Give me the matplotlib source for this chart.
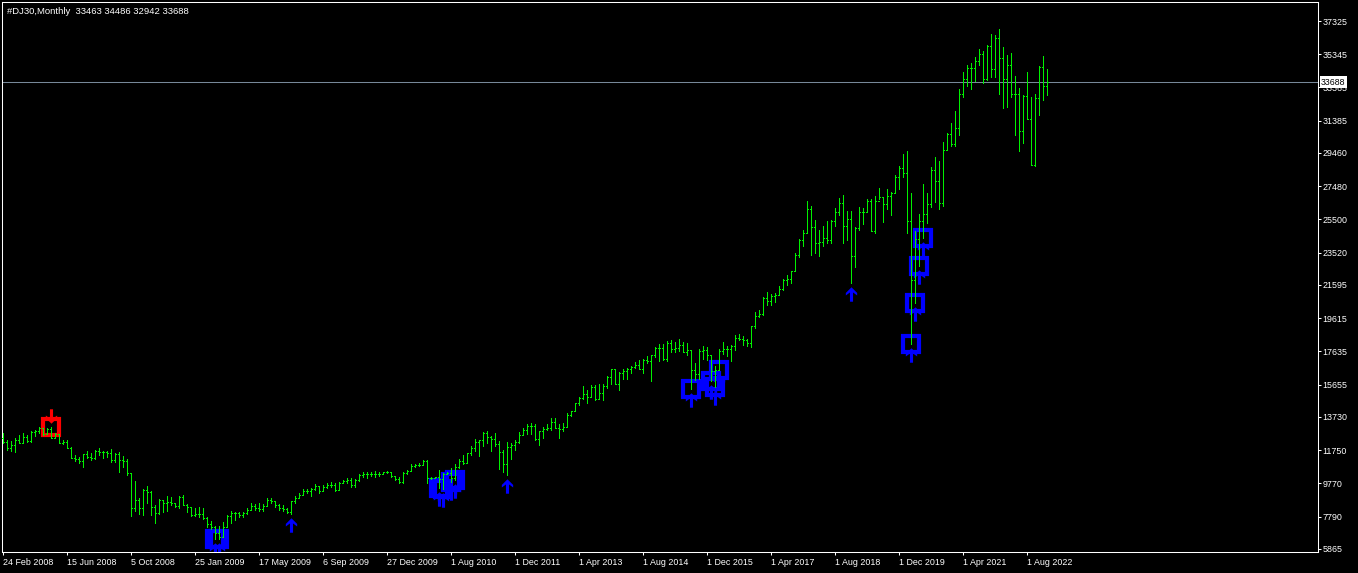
import numpy as np
import matplotlib.pyplot as plt
from matplotlib.collections import LineCollection
from matplotlib.path import Path

plt.rcParams['font.family'] = ['Liberation Sans', 'DejaVu Sans']

# #DJ30 bars (weekly part first, then monthly)
first_open = 12450
highs = [
    12750, 12350, 12310, 12450, 12650, 12750, 12650, 12890, 12950, 13110,
    13050, 13050, 13110, 12750, 12700, 12350, 12350, 11920, 11460, 11360,
    11520, 11700, 11560, 11760, 11860, 11700, 11700, 11800, 11560, 11640,
    11400, 11200, 10380, 9930, 8880, 9430, 9610, 9300, 8480, 8820,
    8780, 9010, 8930, 8580, 9010, 9070, 8540, 8380, 8280, 8340,
    8280, 7780, 7520, 7200, 7230, 7480, 7880, 8120, 8080, 8080,
    8080, 8280, 8580, 8520, 8580, 8520, 8880, 8880, 8700, 8520,
    8480, 8320, 8720, 9010, 9170, 9410, 9410, 9510, 9710, 9610,
    9670, 9810, 9870, 9770, 9870, 9970, 10070, 10070, 10010, 10310,
    10470, 10470, 10470, 10510, 10470, 10470, 10510, 10450, 10210, 10170,
    10470, 10560, 10920, 10920, 10960, 11160, 11160, 10170, 10170, 10565,
    10410, 10470, 10710, 10900, 11200, 11460, 11600, 12000, 12390, 12350,
    12850, 12890, 12600, 12750, 12280, 11760, 12220, 12190, 12330, 12841,
    13056, 13290, 13339, 13280, 12900, 13140, 13330, 13653, 13662, 13290,
    13362, 13969, 14054, 14585, 14888, 15542, 15340, 15658, 15618, 15710,
    15680, 16174, 16588, 16588, 16398, 16588, 16631, 16735, 16978, 17151,
    17153, 17350, 17395, 17895, 18103, 18053, 18244, 18289, 18175, 18351,
    18190, 18137, 17710, 16933, 17800, 17977, 17924, 17422, 16752, 17790,
    18168, 17935, 18016, 18622, 18668, 18534, 18399, 19152, 19987, 20125,
    20851, 21169, 21071, 21112, 21535, 21929, 22179, 22420, 23485, 24328,
    24876, 26617, 26307, 25449, 24858, 25086, 25403, 25473, 26168, 26770,
    26952, 25980, 25980, 25056, 26242, 26156, 26696, 26695, 26907, 27399,
    26864, 27306, 27122, 28175, 28701, 29374, 29576, 27100, 24830, 25820,
    27610, 27070, 28630, 29199, 28958, 30116, 30637, 31272, 31961, 33259,
    34257, 34712, 34849, 35171, 35631, 35510, 35892, 36566, 36513, 36830,
    35795, 35300, 35400, 34050, 33310, 32914, 34305, 32775, 32974, 34643,
    35240, 34486,
]
lows = [
    12190, 11760, 11700, 11660, 12150, 12150, 12250, 12250, 12610, 12750,
    12650, 12690, 12450, 12450, 12150, 12110, 11860, 11260, 11120, 10960,
    10760, 11300, 11160, 11220, 11460, 11260, 11360, 11060, 11060, 10470,
    10760, 10270, 7820, 8140, 7940, 7880, 8580, 7880, 7430, 7940,
    8080, 8140, 8480, 8340, 8280, 8480, 8080, 7840, 7820, 7780,
    7620, 7190, 7030, 6430, 6430, 6590, 7190, 7390, 7580, 7780,
    7750, 7940, 8180, 8180, 8140, 8140, 8400, 8580, 8380, 8180,
    8140, 7980, 7960, 8620, 8900, 9070, 9170, 9010, 9370, 9210,
    9300, 9470, 9530, 9330, 9370, 9770, 9770, 9570, 9570, 9910,
    10170, 10110, 10230, 10170, 10210, 10350, 10370, 10130, 9970, 9770,
    9770, 10310, 10500, 10760, 10800, 10870, 9810, 10050, 10070, 9470,
    9410, 10300, 9870, 9970, 10660, 10900, 10960, 11460, 11720, 11420,
    12020, 12150, 11720, 12020, 10600, 10470, 10270, 11230, 11735, 12150,
    12623, 12710, 12710, 12377, 12035, 12492, 12976, 12977, 13049, 12471,
    12883, 13104, 13784, 14054, 14434, 14769, 14551, 14910, 14760, 14777,
    14719, 15454, 15703, 15699, 15340, 16015, 16015, 16334, 16654, 16563,
    16333, 16945, 15855, 17278, 17068, 17136, 17037, 17585, 17576, 17685,
    17596, 17399, 15370, 15942, 16013, 17210, 17139, 15842, 15503, 16511,
    17484, 17331, 17063, 17713, 18289, 17992, 17959, 17888, 19007, 19677,
    19831, 20412, 20379, 20553, 20994, 21279, 21600, 21709, 22416, 23242,
    23921, 24741, 23360, 23509, 23344, 23908, 24076, 24077, 25124, 25743,
    24123, 24268, 21713, 22639, 24884, 25208, 25985, 24815, 24680, 26699,
    25339, 26144, 25743, 27053, 27325, 28046, 24668, 18050, 20520, 22700,
    24400, 25290, 26218, 26537, 26143, 26277, 29617, 29857, 29856, 30547,
    32787, 33474, 33271, 33742, 34690, 33613, 33802, 34006, 34006, 32970,
    32160, 32220, 32815, 30530, 29600, 30073, 31484, 28742, 28682, 31722,
    32616, 32942,
]
closes = [
    12250, 11860, 12050, 12350, 12190, 12550, 12290, 12850, 12910, 13050,
    12690, 13010, 12450, 12690, 12190, 12250, 11860, 11300, 11220, 11100,
    11500, 11360, 11260, 11700, 11660, 11660, 11560, 11160, 11500, 11160,
    11120, 10370, 8280, 8780, 8280, 9370, 9270, 8340, 7980, 8780,
    8580, 8680, 8580, 8420, 8970, 8480, 8340, 7880, 7940, 7940,
    7720, 7330, 7190, 6790, 6590, 7190, 7820, 8000, 8010, 7900,
    8030, 8200, 8440, 8300, 8240, 8400, 8800, 8700, 8450, 8300,
    8220, 8080, 8700, 8900, 9100, 9300, 9330, 9450, 9600, 9300,
    9550, 9700, 9650, 9400, 9800, 9900, 9950, 9650, 9950, 10250,
    10300, 10350, 10320, 10300, 10350, 10420, 10450, 10200, 10050, 9850,
    10400, 10500, 10800, 10850, 10870, 11100, 10100, 10110, 10120, 10050,
    10300, 10400, 10100, 10750, 11120, 11000, 11560, 11900, 12250, 12330,
    12800, 12560, 12400, 12130, 11620, 10900, 11950, 12046, 12218, 12633,
    12952, 13212, 13214, 12393, 12880, 13009, 13090, 13437, 13096, 13026,
    13104, 13861, 14054, 14579, 14840, 15116, 14910, 15500, 14810, 15130,
    15546, 16086, 16577, 15699, 16322, 16458, 16581, 16717, 16827, 16563,
    17098, 17043, 17391, 17828, 17823, 17165, 18133, 17776, 17841, 18011,
    17620, 17690, 16528, 16285, 17664, 17720, 17425, 16466, 16517, 17685,
    17774, 17787, 17930, 18432, 18401, 18308, 18142, 19124, 19763, 19864,
    20812, 20663, 20940, 21009, 21350, 21891, 21948, 22405, 23377, 24272,
    24719, 26149, 25029, 24103, 24163, 24416, 24271, 25415, 25965, 26458,
    25116, 25538, 23327, 24999, 25916, 25929, 26593, 24815, 26600, 26864,
    26403, 26917, 27046, 28051, 28538, 28256, 25409, 21917, 24346, 25383,
    25813, 26428, 28430, 27782, 26502, 29638, 30606, 29983, 30932, 32982,
    33875, 34529, 34503, 34935, 35361, 33844, 35820, 34484, 36338, 35132,
    33893, 34678, 32977, 32990, 30775, 32845, 31510, 28726, 32733, 34590,
    33463, 33688,
]
opens = [first_open] + closes[:-1]

# signal bars
sell_bars = [12]
buy_box_bars = [53, 54, 109, 110, 112, 113, 172, 177, 178, 179, 227, 228, 229, 230]
buy_arrow_bars = buy_box_bars + [72, 126, 212]

ytick_vals = [37325, 35345, 33365, 31385, 29460, 27480, 25500, 23520, 21595,
              19615, 17635, 15655, 13730, 11750, 9770, 7790, 5865]
xtick_labels = ['24 Feb 2008', '15 Jun 2008', '5 Oct 2008', '25 Jan 2009', '17 May 2009',
                '6 Sep 2009', '27 Dec 2009', '1 Aug 2010', '1 Dec 2011', '1 Apr 2013',
                '1 Aug 2014', '1 Dec 2015', '1 Apr 2017', '1 Aug 2018', '1 Dec 2019',
                '1 Apr 2021', '1 Aug 2022']
last_price = 33688
header = '#DJ30,Monthly  33463 34486 32942 33688'

W, H = 1358, 573
fig = plt.figure(figsize=(W / 100, H / 100), dpi=100, facecolor='black')
ax = fig.add_axes([2 / W, 1 - 552 / H, 1316 / W, 550 / H], facecolor='black')
ymin, ymax = 5678, 38458
ax.set_ylim(ymin, ymax)
ax.set_xlim(-0.33, 328.7)
px = (ymax - ymin) / 550.0  # price per pixel

# OHLC bars
segs = []
for i in range(len(closes)):
    segs.append([(i, lows[i]), (i, highs[i])])
    segs.append([(i - 0.25, opens[i]), (i, opens[i])])
    segs.append([(i, closes[i]), (i + 0.25, closes[i])])
ax.add_collection(LineCollection(segs, colors='#00f000', linewidths=0.72,
                                 antialiaseds=False, capstyle='butt', zorder=4))

# arrows and boxes
up = Path([(0, 7), (5.5, 1.5), (5.5, -1), (1.5, 2), (1.5, -7), (-1.5, -7),
           (-1.5, 2), (-5.5, -1), (-5.5, 1.5), (0, 7)], closed=True)
down = Path([(x, -y) for x, y in up.vertices], closed=True)

bx = buy_arrow_bars
ax.plot(bx, [lows[i] - 11 * px for i in bx], ls='none', marker=up, ms=10.4,
        color='#0000ff', mew=0, zorder=2)
ax.plot(buy_box_bars, [lows[i] for i in buy_box_bars], ls='none', marker='s',
        ms=11.0, mfc='none', mec='#0000ff', mew=3.0, zorder=3)
ax.plot(sell_bars, [highs[i] + 11 * px for i in sell_bars], ls='none', marker=down,
        ms=10.4, color='#ff0000', mew=0, zorder=2)
ax.plot(sell_bars, [highs[i] for i in sell_bars], ls='none', marker='s',
        ms=11.0, mfc='none', mec='#ff0000', mew=3.0, zorder=3)

# last price line and label
ax.axhline(last_price, color='#778899', lw=0.75, zorder=1)
ax.text(1.0 + 3 / 1316, last_price, str(last_price), transform=ax.get_yaxis_transform(),
        ha='left', va='center', fontsize=6.3, color='black', clip_on=False, zorder=10,
        bbox=dict(boxstyle='square,pad=0.15', fc='white', ec='none'))

# axes styling
for s in ax.spines.values():
    s.set_color('white')
    s.set_linewidth(0.75)
ax.yaxis.tick_right()
ax.set_yticks(ytick_vals)
ax.set_yticklabels([str(v) for v in ytick_vals])
ax.set_xticks(np.arange(len(xtick_labels)) * 16)
ax.set_xticklabels(xtick_labels, ha='left')
ax.tick_params(axis='y', colors='white', length=2.2, width=0.75, pad=1, labelsize=6.4)
ax.tick_params(axis='x', colors='white', length=2.2, width=0.75, pad=2, labelsize=6.4)

fig.text(7 / W, 1 - 11 / H, header, color='white', fontsize=6.8, va='center', ha='left')

fig.savefig('out.png', dpi=100, facecolor='black')
